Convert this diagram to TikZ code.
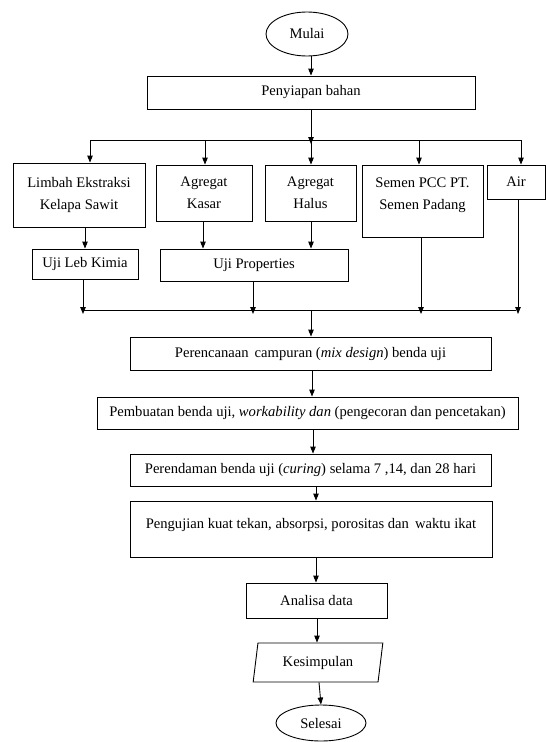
\documentclass[tikz,border=0pt]{standalone}
\usepackage{fontspec}
\setmainfont{Liberation Serif}
\usetikzlibrary{arrows.meta,shapes.geometric}

\tikzset{
  box/.style={draw, line width=0.9pt, rectangle, align=center, inner sep=2pt},
  term/.style={draw, line width=0.9pt, ellipse, inner sep=0pt},
  io/.style={draw, line width=0.9pt, trapezium, trapezium left angle=78,
    trapezium right angle=102, trapezium stretches=true, inner sep=0pt},
  arr/.style={line width=0.9pt, -{Triangle[length=7pt,width=5.5pt]}},
  ln/.style={line width=0.9pt}
}

\begin{document}
\begin{tikzpicture}[x=1pt,y=-1pt,font=\fontsize{14.6}{22}\selectfont]
\useasboundingbox (0,0) rectangle (546,742);

% Start and preparation
\node [term, minimum width=82pt, minimum height=44pt] (mulai) at (307,34) {Mulai};
\node [box, minimum width=328pt, minimum height=33pt] (bahan) at (311,92.5) {Penyiapan bahan};

% Materials
\node [box, minimum width=132pt, minimum height=64pt] (limbah) at (79,195) {Limbah Ekstraksi\\Kelapa Sawit};
\node [box, minimum width=96pt, minimum height=56pt] (kasar) at (204,193) {Agregat\\Kasar};
\node [box, minimum width=91pt, minimum height=56pt] (halus) at (310.5,193) {Agregat\\Halus};
\node [box, minimum width=121pt, minimum height=72pt] (semen) at (422.5,201) {Semen PCC PT.\\Semen Padang\\[-8pt]};
\node [box, minimum width=58pt, minimum height=34pt] (air) at (516,182) {Air};

% Tests of the materials
\node [box, minimum width=106pt, minimum height=30pt] (ujilab) at (85,264) {Uji Leb Kimia};
\node [box, minimum width=188pt, minimum height=32pt] (ujiprop) at (254,265) {Uji Properties};

% Main steps
\node [box, minimum width=361pt, minimum height=33pt] (mix) at (310.5,353.5) {Perencanaan\, campuran (\textit{mix design}) benda uji};
\node [box, minimum width=421pt, minimum height=32pt] (buat) at (307.5,413) {Pembuatan benda uji, \textit{workability dan} (pengecoran dan pencetakan)};
\node [box, minimum width=361pt, minimum height=32pt] (rendam) at (310.5,470) {Perendaman benda uji (\textit{curing}) selama 7 ,14, dan 28 hari};
\node [box, minimum width=362pt, minimum height=56pt, text height=12pt, text depth=14pt] (uji) at (311,529) {Pengujian kuat tekan, absorpsi, porositas dan\, waktu ikat};
\node [box, minimum width=141pt, minimum height=35pt] (analisa) at (316.5,600.5) {Analisa data};
\node [io, minimum width=130pt, minimum height=39pt] (simpul) at (318,662.5) {Kesimpulan};
\node [term, minimum width=90pt, minimum height=36pt] (selesai) at (321,723) {Selesai};

% Branch line under preparation
\coordinate (b1) at (90,140);
\coordinate (b2) at (205,140);
\coordinate (b3) at (311,140);
\coordinate (b4) at (419,140);
\coordinate (b5) at (521,140);

% Merge line above the mix design
\coordinate (m1) at (83,310);
\coordinate (m2) at (253,310);
\coordinate (m3) at (421,310);
\coordinate (m4) at (518,310);
\coordinate (m0) at (311,310);

% Connectors
\draw [arr] (mulai.south -| bahan.north) -- (bahan.north);
\draw [arr] (bahan.south) -- ([yshift=-4pt]b3);
\draw [ln] (b1) -- (b5);

\draw [arr] (b1) -- (b1 |- limbah.north);
\draw [arr] (b2) -- (b2 |- kasar.north);
\draw [arr] (b3) -- (b3 |- halus.north);
\draw [arr] (b4) -- (b4 |- semen.north);
\draw [arr] (b5) -- (b5 |- air.north);

\draw [arr] (limbah.south -| ujilab.north) -- (ujilab.north);
\draw [arr] (kasar.south -| 203,0) -- (203,0 |- ujiprop.north);
\draw [arr] (halus.south -| 311,0) -- (311,0 |- ujiprop.north);

\draw [arr] (ujilab.south -| m1) -- ([yshift=-4pt]m1);
\draw [arr] (ujiprop.south -| m2) -- ([yshift=-4pt]m2);
\draw [arr] (semen.south -| m3) -- ([yshift=-4pt]m3);
\draw [arr] (air.south -| m4) -- ([yshift=-4pt]m4);
\draw [ln] (m1) -- (516,310);

\draw [arr] (m0) -- (m0 |- mix.north);
\draw [arr] (312,0 |- mix.south) -- (312,0 |- buat.north);
\draw [arr] (313,0 |- buat.south) -- (313,0 |- rendam.north);
\draw [arr] (316,0 |- rendam.south) -- (316,0 |- uji.north);
\draw [arr] (316,0 |- uji.south) -- (316,0 |- analisa.north);
\draw [arr] (317,0 |- analisa.south) -- (317,0 |- simpul.north);
\draw [arr] (319,0 |- simpul.south) -- (selesai.north);
\end{tikzpicture}
\end{document}
